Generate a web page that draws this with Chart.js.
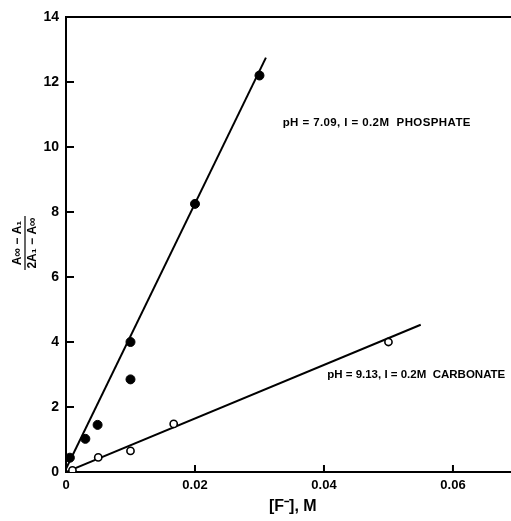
<!DOCTYPE html>
<html>
<head>
<meta charset="utf-8">
<script src="https://cdn.jsdelivr.net/npm/chart.js@4"></script>
<style>
  html, body { margin: 0; padding: 0; background: #fff; }
  #wrap { width: 511px; height: 521px; position: relative; }
</style>
</head>
<body>
<div id="wrap"><canvas id="chart"></canvas></div>
<script>
// data
const phosphateX = [0.0006, 0.003, 0.0049, 0.010, 0.010, 0.020, 0.030];
const phosphateY = [0.44, 1.02, 1.45, 4.0, 2.85, 8.25, 12.2];
const carbonateX = [0.001, 0.005, 0.010, 0.0167, 0.050];
const carbonateY = [0.05, 0.45, 0.65, 1.48, 4.0];
const phosphateFitX = [0, 0.031];
const phosphateFitY = [0.1, 12.75];
const carbonateFitX = [0, 0.055];
const carbonateFitY = [0, 4.53];

const X_TICKS = [0, 0.02, 0.04, 0.06];
const X_TICK_LABELS = ['0', '0.02', '0.04', '0.06'];
const Y_TICKS = [0, 2, 4, 6, 8, 10, 12, 14];
const Y_TICK_LABELS = ['0', '2', '4', '6', '8', '10', '12', '14'];

const notes = [
    { x: 0.0336, y: 10.75, text: 'pH = 7.09, I = 0.2M  PHOSPHATE', spacing: 0.4 },
    { x: 0.0405, y: 3.0, text: 'pH = 9.13, I = 0.2M  CARBONATE', spacing: 0 }
];

const pts = (xs, ys) => xs.map((x, i) => ({ x, y: ys[i] }));
const FONT = 'Liberation Sans';

// inward ticks, top border, notes and the axis titles
const decor = {
    id: 'decor',
    afterDraw(chart) {
        const { ctx, chartArea: a, scales: { x, y } } = chart;
        ctx.save();
        ctx.strokeStyle = '#000';
        ctx.lineWidth = 2;
        ctx.beginPath();
        ctx.moveTo(a.left - 1, a.top); ctx.lineTo(a.right, a.top);
        Y_TICKS.slice(1, -1).forEach(v => {
            const py = y.getPixelForValue(v);
            ctx.moveTo(a.left, py); ctx.lineTo(a.left + 8, py);
        });
        X_TICKS.slice(1).forEach(v => {
            const px = x.getPixelForValue(v);
            ctx.moveTo(px, a.bottom); ctx.lineTo(px, a.bottom - 7);
        });
        ctx.stroke();

        ctx.fillStyle = '#000';
        ctx.font = `bold 11.5px ${FONT}`;
        ctx.textBaseline = 'middle';
        ctx.textAlign = 'left';
        notes.forEach(n => {
            ctx.letterSpacing = n.spacing + 'px';
            ctx.fillText(n.text, x.getPixelForValue(n.x), y.getPixelForValue(n.y));
        });
        ctx.letterSpacing = '0px';

        // x title
        ctx.font = `bold 16px ${FONT}`;
        ctx.fillText('[F\u207B], M', 269, 507);

        // y title, a rotated fraction
        ctx.translate(25, 243);
        ctx.rotate(-Math.PI / 2);
        ctx.font = `bold 12px ${FONT}`;
        ctx.textAlign = 'center';
        ctx.fillText('A\u221E \u2212 A\u2081', 0, -7);
        ctx.fillText('2A\u2081 \u2212 A\u221E', 0, 8);
        ctx.lineWidth = 1.2;
        ctx.beginPath();
        ctx.moveTo(-27, 0); ctx.lineTo(27, 0);
        ctx.stroke();
        ctx.restore();
    }
};

new Chart(document.getElementById('chart'), {
    type: 'scatter',
    data: {
        datasets: [
            { label: 'Phosphate', data: pts(phosphateX, phosphateY), backgroundColor: '#000', borderColor: '#000', pointRadius: 4.5, pointHoverRadius: 4.5 },
            { label: 'Carbonate', data: pts(carbonateX, carbonateY), backgroundColor: '#fff', borderColor: '#000', borderWidth: 1.6, pointRadius: 3.6, pointHoverRadius: 3.6 },
            { label: 'Phosphate fit', data: pts(phosphateFitX, phosphateFitY), showLine: true, borderColor: '#000', borderWidth: 2, pointRadius: 0 },
            { label: 'Carbonate fit', data: pts(carbonateFitX, carbonateFitY), showLine: true, borderColor: '#000', borderWidth: 2, pointRadius: 0 }
        ]
    },
    options: {
        responsive: true, maintainAspectRatio: false, animation: false,
        layout: { autoPadding: false, padding: { top: 17, right: 0, left: 0, bottom: 0 } },
        plugins: { legend: { display: false }, tooltip: { enabled: false } },
        scales: {
            x: {
                type: 'linear', min: 0, max: 0.069,
                afterBuildTicks: s => { s.ticks = X_TICKS.map(v => ({ value: v })); },
                afterFit: s => { s.height = 49; s.paddingRight = 0; s.paddingLeft = 0; },
                ticks: { color: '#000', padding: 6, font: { family: FONT, size: 13, weight: 'bold' }, callback: (v, i) => X_TICK_LABELS[i] },
                grid: { display: false, drawTicks: false },
                border: { display: true, color: '#000', width: 2 }
            },
            y: {
                type: 'linear', min: 0, max: 14,
                afterBuildTicks: s => { s.ticks = Y_TICKS.map(v => ({ value: v })); },
                afterFit: s => { s.width = 66; s.paddingTop = 0; s.paddingBottom = 0; },
                ticks: { color: '#000', padding: 7, font: { family: FONT, size: 14, weight: 'bold' }, callback: (v, i) => Y_TICK_LABELS[i] },
                grid: { display: false, drawTicks: false },
                border: { display: true, color: '#000', width: 2 }
            }
        }
    },
    plugins: [decor]
});
</script>
</body>
</html>
